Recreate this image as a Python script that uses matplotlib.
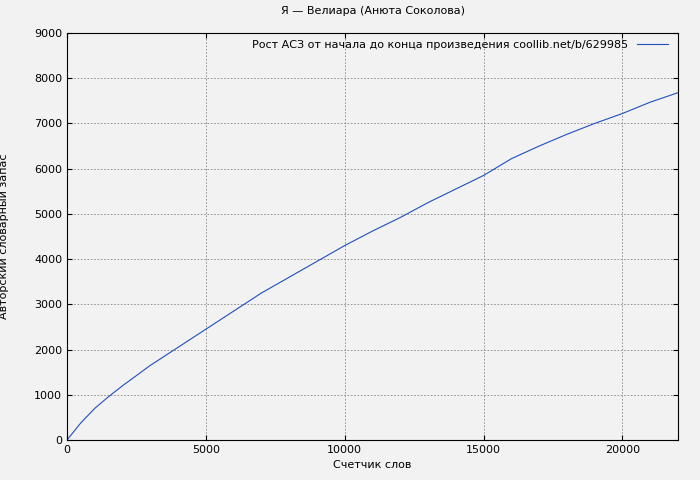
import matplotlib
matplotlib.use("Agg")
import matplotlib.pyplot as plt

words = [0, 500, 1000, 1500, 2000, 3000, 4000, 5000, 6000, 7000, 8000, 9000, 10000, 11000, 12000, 13000, 14000, 15000, 16000, 17000, 18000, 19000, 20000, 21000, 22000]
vocab = [0, 380, 700, 960, 1200, 1650, 2050, 2450, 2850, 3250, 3600, 3950, 4300, 4620, 4920, 5250, 5550, 5850, 6220, 6500, 6760, 7000, 7220, 7470, 7680]

fig = plt.figure(figsize=(7, 4.8), dpi=100, facecolor="#f2f2f2")
ax = fig.add_axes([0.0957, 0.0833, 0.8729, 0.848])
ax.set_facecolor("#f2f2f2")
ax.plot(words, vocab, color="#1f4fbf", lw=0.8,
        label="Рост АСЗ от начала до конца произведения coollib.net/b/629985")
ax.set_xlim(0, 22000)
ax.set_ylim(0, 9000)
ax.set_xticks(range(0, 22001, 5000))
ax.set_yticks(range(0, 9001, 1000))
ax.grid(True, color="#888888", ls=(0, (2, 2)), lw=0.6)
ax.tick_params(direction="in", top=True, right=True, labelsize=8)
for s in ax.spines.values():
    s.set_linewidth(0.8)
ax.set_xlabel("Счетчик слов", fontsize=8)
ax.set_ylabel("Авторский словарный запас", fontsize=8)
ax.yaxis.set_label_coords(-0.095, 0.5)
ax.set_title("Я — Велиара (Анюта Соколова)", fontsize=8, pad=14)
leg = ax.legend(loc="upper right", fontsize=8, frameon=False, markerfirst=False,
                handlelength=2.8, borderaxespad=0.2, bbox_to_anchor=(0.995, 1.0))
fig.savefig("out.png", dpi=100, facecolor=fig.get_facecolor())
